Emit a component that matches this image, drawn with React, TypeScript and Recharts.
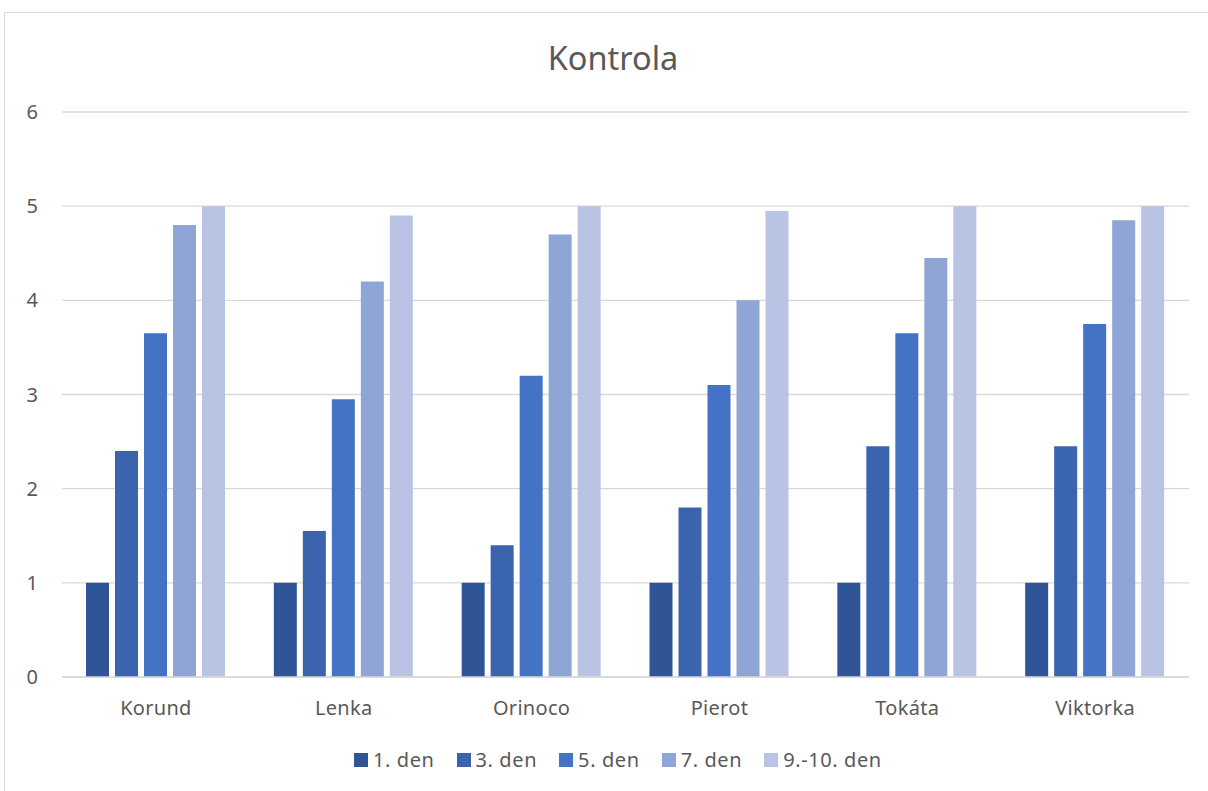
import { BarChart, Bar, XAxis, YAxis, CartesianGrid } from 'recharts';

const varieties = ['Korund', 'Lenka', 'Orinoco', 'Pierot', 'Tokáta', 'Viktorka'];
const den1 = [1, 1, 1, 1, 1, 1];
const den3 = [2.4, 1.55, 1.4, 1.8, 2.45, 2.45];
const den5 = [3.65, 2.95, 3.2, 3.1, 3.65, 3.75];
const den7 = [4.8, 4.2, 4.7, 4.0, 4.45, 4.85];
const den9to10 = [5, 4.9, 5, 4.95, 5, 5];
const yTicks = [0, 1, 2, 3, 4, 5, 6];

const series = [
  { key: 'd1', name: '1. den', values: den1, color: '#2F5597' },
  { key: 'd3', name: '3. den', values: den3, color: '#3A64AD' },
  { key: 'd5', name: '5. den', values: den5, color: '#4472C4' },
  { key: 'd7', name: '7. den', values: den7, color: '#8FA5D5' },
  { key: 'd9', name: '9.-10. den', values: den9to10, color: '#B9C4E4' },
];

const data = varieties.map((name, i) => {
  const row: Record<string, string | number> = { name };
  series.forEach((s) => {
    row[s.key] = s.values[i];
  });
  return row;
});

const font = '"Noto Sans", "Open Sans", sans-serif';
const textColor = '#595959';

export default function App() {
  return (
    <div style={{ position: 'absolute', left: 0, top: 0, width: 1208, height: 791, overflow: 'hidden', background: '#fff', fontFamily: font }}>
      <div style={{ position: 'absolute', left: 4, top: 12, width: 1230, height: 820, border: '1px solid #d9d9d9', boxSizing: 'border-box' }} />
      <div style={{ position: 'absolute', left: 0, top: 35, width: 1226, textAlign: 'center', fontSize: 32.5, color: textColor }}>
        Kontrola
      </div>
      <div style={{ position: 'absolute', left: 0, top: 0 }}>
        <BarChart
          width={1208}
          height={791}
          data={data}
          margin={{ top: 112, right: 19, bottom: 74, left: 0 }}
          barCategoryGap="13%"
          barGap={6}
        >
          <CartesianGrid vertical={false} stroke="#d9d9d9" strokeWidth={1.3} />
          <XAxis
            dataKey="name"
            axisLine={{ stroke: '#d9d9d9', strokeWidth: 1.3 }}
            tickLine={false}
            tickSize={0}
            tickMargin={24}
            height={40}
            tick={{ fill: textColor, fontSize: 20, fontFamily: font, letterSpacing: 0.3 }}
          />
          <YAxis
            domain={[0, 6]}
            ticks={yTicks}
            axisLine={false}
            tickLine={false}
            tickSize={0}
            tickMargin={24}
            width={62}
            tick={{ fill: textColor, fontSize: 20, fontFamily: font }}
          />
          {series.map((s) => (
            <Bar key={s.key} dataKey={s.key} name={s.name} fill={s.color} barSize={23} isAnimationActive={false} />
          ))}
        </BarChart>
      </div>
      <div style={{ position: 'absolute', left: 354, top: 746, display: 'flex', alignItems: 'center', fontSize: 20, letterSpacing: 0.6, color: textColor }}>
        {series.map((s) => (
          <div key={s.key} style={{ display: 'flex', alignItems: 'center', marginRight: 22 }}>
            <span style={{ display: 'inline-block', width: 14, height: 14, background: s.color, marginRight: 5 }} />
            <span>{s.name}</span>
          </div>
        ))}
      </div>
    </div>
  );
}
